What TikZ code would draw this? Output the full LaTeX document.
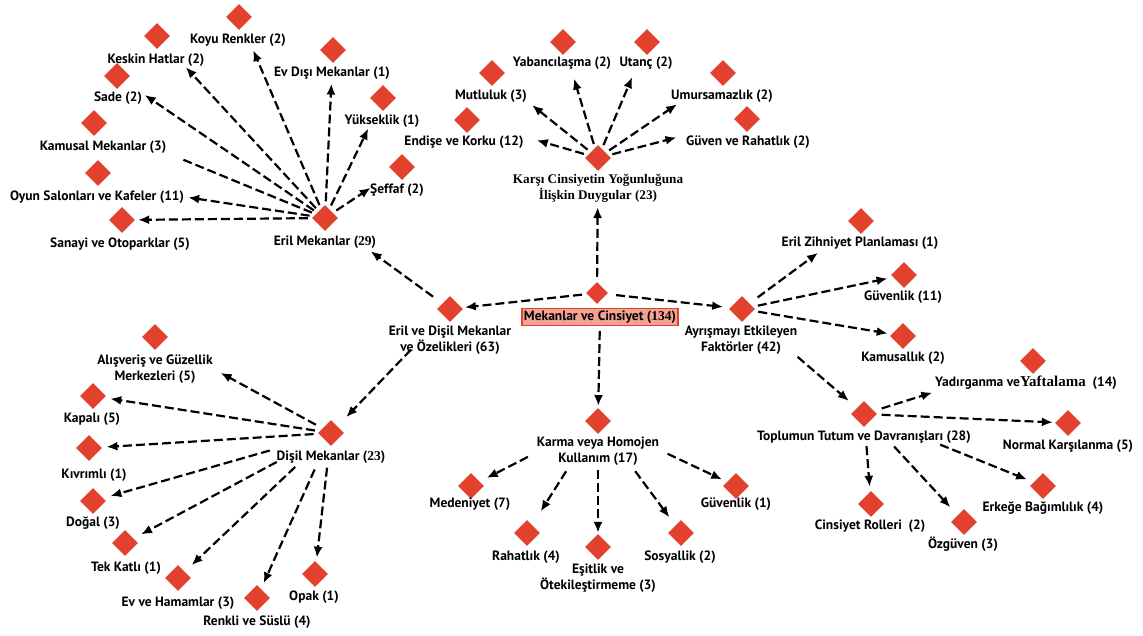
\documentclass[tikz,border=0pt]{standalone}
\usepackage{fontspec}
\setmainfont{Liberation Serif}
\setsansfont{PT Sans}
\usetikzlibrary{shapes.geometric,arrows.meta}
\definecolor{dred}{RGB}{226,65,45}
\definecolor{boxfill}{RGB}{243,163,148}

\begin{document}
\begin{tikzpicture}[x=1pt,y=-1pt,
  dia/.style={diamond,aspect=1,fill=dred,inner sep=0pt,minimum size=26pt},
  lbl/.style={font=\sffamily\bfseries\fontsize{13.5}{16}\selectfont,align=center,inner sep=1pt},
  srf/.style={font=\rmfamily\bfseries\fontsize{13.2}{16}\selectfont,align=center,inner sep=1pt},
  dline/.style={line width=2.2pt,dash pattern=on 9pt off 4pt},
  arr/.style={dline,->,>={Latex[length=11pt,width=9pt]}}]
\fill[white] (0,0) rectangle (1143,635);
\useasboundingbox (0,0) rectangle (1143,635);
% centre
\node[dia,minimum size=22pt] (mc) at (597,293) {};
\node[lbl,draw=dred,fill=boxfill,line width=1.4pt,inner sep=2pt] (mcL) at (600,317) {Mekanlar ve Cinsiyet ({\rmfamily 134})};
\node[dia] (edm) at (450,309) {};
\node[lbl] (edmL) at (450,340) {Eril ve Dişil Mekanlar\\ve Özelikleri (63)};
\node[dia] (ayr) at (742,309) {};
\node[lbl] (ayrL) at (741,340) {Ayrışmayı Etkileyen\\Faktörler (42)};
\node[dia] (kcy) at (598,158) {};
\node[srf] (kcyL) at (598,188) {Karşı Cinsiyetin Yoğunluğuna\\İlişkin Duygular (23)};
\node[dia] (kar) at (598,421) {};
\node[lbl] (karL) at (598,451) {Karma veya Homojen\\Kullanım (17)};
% eril mekanlar
\node[dia] (erl) at (325,218) {};
\node[lbl] (erlL) at (325,242) {Eril Mekanlar ({\rmfamily 29})};
\node[dia] (koyu) at (239,17) {};
\node[lbl] (koyuL) at (238,40) {Koyu Renkler (2)};
\node[dia] (kesk) at (157,36) {};
\node[lbl] (keskL) at (156,60) {Keskin Hatlar (2)};
\node[dia] (sade) at (117,76) {};
\node[lbl] (sadeL) at (118,98) {Sade (2)};
\node[dia] (kamu) at (94,123) {};
\node[lbl] (kamuL) at (103,147) {Kamusal Mekanlar (3)};
\node[dia] (oyun) at (98,173) {};
\node[lbl] (oyunL) at (97,197) {Oyun Salonları ve Kafeler (11)};
\node[dia] (sana) at (122,220) {};
\node[lbl] (sanaL) at (120,244) {Sanayi ve Otoparklar (5)};
\node[dia] (evd) at (333,50) {};
\node[lbl] (evdL) at (332,73) {Ev Dışı Mekanlar (1)};
\node[dia] (yuk) at (383,98) {};
\node[lbl] (yukL) at (382,121) {Yükseklik (1)};
\node[dia] (sef) at (402,167) {};
\node[lbl] (sefL) at (397,190) {Şeffaf (2)};
% duygular
\node[dia] (end) at (467,120) {};
\node[lbl] (endL) at (464,142) {Endişe ve Korku (12)};
\node[dia] (mut) at (492,73) {};
\node[lbl] (mutL) at (491,96) {Mutluluk (3)};
\node[dia] (yab) at (563,42) {};
\node[lbl] (yabL) at (562,63) {Yabancılaşma (2)};
\node[dia] (uta) at (647,42) {};
\node[lbl] (utaL) at (646,63) {Utanç (2)};
\node[dia] (umu) at (723,73) {};
\node[lbl] (umuL) at (722,96) {Umursamazlık (2)};
\node[dia] (guv) at (747,119) {};
\node[lbl] (guvL) at (748,142) {Güven ve Rahatlık (2)};
% ayrismayi etkileyen
\node[dia] (ezp) at (861,221) {};
\node[lbl] (ezpL) at (860,243) {Eril Zihniyet Planlaması (1)};
\node[dia] (guvb) at (904,275) {};
\node[lbl] (guvbL) at (903,297) {Güvenlik (11)};
\node[dia] (kams) at (903,336) {};
\node[lbl] (kamsL) at (903,358) {Kamusallık (2)};
\node[dia] (top) at (864,414) {};
\node[lbl] (topL) at (864,437) {Toplumun Tutum ve Davranışları (28)};
\node[dia] (yad) at (1033,361) {};
\node[lbl] (yadL) at (1026,383) {Yadırganma ve{\rmfamily\fontsize{15}{16}\selectfont Yaftalama}~~(14)};
\node[dia] (nor) at (1068,423) {};
\node[lbl] (norL) at (1068,446) {Normal Karşılanma (5)};
\node[dia] (erk) at (1043,486) {};
\node[lbl] (erkL) at (1043,508) {Erkeğe Bağımlılık (4)};
\node[dia] (ozg) at (964,522) {};
\node[lbl] (ozgL) at (963,544) {Özgüven (3)};
\node[dia] (cin) at (871,504) {};
\node[lbl] (cinL) at (870,526) {Cinsiyet Rolleri~~(2)};
% karma veya homojen
\node[dia] (med) at (471,486) {};
\node[lbl] (medL) at (470,504) {Medeniyet (7)};
\node[dia] (rah) at (527,533) {};
\node[lbl] (rahL) at (526,557) {Rahatlık (4)};
\node[dia] (esi) at (598,547) {};
\node[lbl] (esiL) at (598,578) {Eşitlik ve\\Ötekileştirmeme (3)};
\node[dia] (sos) at (681,533) {};
\node[lbl] (sosL) at (680,557) {Sosyallik (2)};
\node[dia] (guvc) at (736,486) {};
\node[lbl] (guvcL) at (736,504) {Güvenlik (1)};
% disil mekanlar
\node[dia] (dsl) at (331,433) {};
\node[lbl] (dslL) at (331,457) {Dişil Mekanlar ({\rmfamily 23})};
\node[dia] (alis) at (155,337) {};
\node[lbl] (alisL) at (155,369) {Alışveriş ve Güzellik\\Merkezleri (5)};
\node[dia] (kap) at (93,396) {};
\node[lbl] (kapL) at (92,419) {Kapalı (5)};
\node[dia] (kiv) at (89,448) {};
\node[lbl] (kivL) at (94,475) {Kıvrımlı (1)};
\node[dia] (dog) at (93,501) {};
\node[lbl] (dogL) at (93,523) {Doğal (3)};
\node[dia] (tek) at (125,543) {};
\node[lbl] (tekL) at (126,568) {Tek Katlı (1)};
\node[dia] (evh) at (178,578) {};
\node[lbl] (evhL) at (178,603) {Ev ve Hamamlar (3)};
\node[dia] (ren) at (257,598) {};
\node[lbl] (renL) at (257,622) {Renkli ve Süslü (4)};
\node[dia] (opa) at (315,574) {};
\node[lbl] (opaL) at (314,597) {Opak (1)};
% arrows
\draw[arr,shorten <=5pt,shorten >=3pt] (mc) -- (edm);
\draw[arr,shorten <=9pt,shorten >=7pt] (mc) -- (ayr);
\draw[arr,shorten <=5pt,shorten >=36pt] (mc) -- (kcy);
\draw[arr,shorten <=5pt,shorten >=2pt] (mcL) -- (kar);
\draw[arr,shorten <=11.5pt,shorten >=47pt] (edm) -- (erl);
\draw[arr,shorten <=47pt,shorten >=12.6pt] (edm) -- (dsl);
\draw[arr,shorten <=4pt,shorten >=26pt] (erl) -- (koyu);
\draw[arr,shorten <=4pt,shorten >=33pt] (erl) -- (kesk);
\draw[arr,shorten <=4pt,shorten >=24pt] (erl) -- (sade);
\draw[dline,shorten <=4pt,shorten >=85pt] (erl) -- (kamu);
\draw[arr,shorten <=4pt,shorten >=3pt] (erl) -- (oyunL.east);
\draw[arr,shorten <=4pt,shorten >=3pt] (erl) -- (sana);
\draw[arr,shorten <=4pt,shorten >=21pt] (erl) -- (evd);
\draw[arr,shorten <=4pt,shorten >=24pt] (erl) -- (yuk);
\draw[arr,shorten <=4pt,shorten >=28pt] (erl) -- (sef);
\draw[arr,shorten <=4pt,shorten >=62pt] (kcy) -- (end);
\draw[arr,shorten <=4pt,shorten >=42pt] (kcy) -- (mut);
\draw[arr,shorten <=4pt,shorten >=27.6pt] (kcy) -- (yab);
\draw[arr,shorten <=4pt,shorten >=28pt] (kcy) -- (uta);
\draw[arr,shorten <=4pt,shorten >=46pt] (kcy) -- (umu);
\draw[arr,shorten <=4pt,shorten >=62pt] (kcy) -- (guv);
\draw[arr,shorten <=10pt,shorten >=44pt] (ayr) -- (ezp);
\draw[arr,shorten <=5pt,shorten >=5.6pt] (ayr) -- (guvb);
\draw[arr,shorten <=5pt,shorten >=4pt] (ayr) -- (kams);
\draw[arr,shorten <=64pt,shorten >=10.6pt] (ayr) -- (top);
\draw[arr,shorten <=8pt,shorten >=95pt] (top) -- (yad);
\draw[arr,shorten <=5pt,shorten >=2.5pt] (top) -- (nor);
\draw[arr,shorten <=72pt,shorten >=7pt] (top) -- (erk);
\draw[arr,shorten <=35pt,shorten >=10.6pt] (top) -- (ozg);
\draw[arr,shorten <=20pt,shorten >=5pt] (top) -- (cin);
\draw[arr,shorten <=69pt,shorten >=7.8pt] (kar) -- (med);
\draw[arr,shorten <=50pt,shorten >=16pt] (kar) -- (rah);
\draw[arr,shorten <=36pt,shorten >=1pt] (kar) -- (esi);
\draw[arr,shorten <=53pt,shorten >=10pt] (kar) -- (sos);
\draw[arr,shorten <=67pt,shorten >=5.4pt] (kar) -- (guvc);
\draw[arr,shorten <=7.5pt,shorten >=65pt] (dsl) -- (alis);
\draw[arr,shorten <=4.6pt,shorten >=5.9pt] (dsl) -- (kap);
\draw[arr,shorten <=5pt,shorten >=5pt] (dsl) -- (kiv);
\draw[arr,shorten <=53pt,shorten >=7.5pt] (dsl) -- (dog);
\draw[arr,shorten <=51.7pt,shorten >=8.4pt] (dsl) -- (tek);
\draw[arr,shorten <=40pt,shorten >=9.4pt] (dsl) -- (evh);
\draw[arr,shorten <=30pt,shorten >=6pt] (dsl) -- (ren);
\draw[arr,shorten <=23pt,shorten >=4.5pt] (dsl) -- (opa);
\end{tikzpicture}
\end{document}
